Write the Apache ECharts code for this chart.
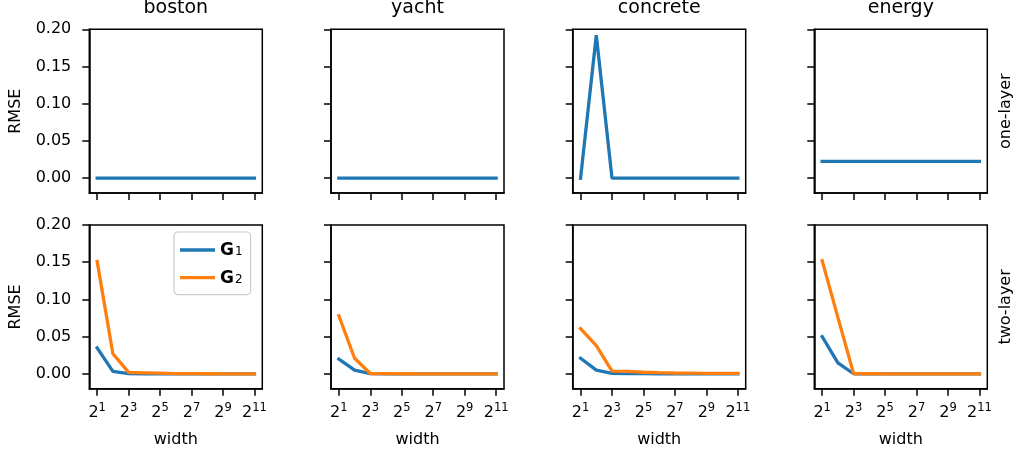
<!DOCTYPE html>
<html>
<head>
<meta charset="utf-8">
<script src="https://cdn.jsdelivr.net/npm/echarts@6/dist/echarts.min.js"></script>
<style>
  html, body { margin: 0; padding: 0; background: #fff; }
  #chart { width: 1015px; height: 454px; }
</style>
</head>
<body>
<div id="chart"></div>
<script>
// ---- data ----
const datasets = ['boston', 'yacht', 'concrete', 'energy'];
const rowLabels = ['one-layer', 'two-layer'];
const widthExp = [1, 2, 3, 4, 5, 6, 7, 8, 9, 10, 11];   // width = 2^exp
const xTickExps = [1, 3, 5, 7, 9, 11];
const yTicks = [0, 0.05, 0.10, 0.15, 0.20];
const seriesNames = ['G1', 'G2'];

// one-layer (only G1 drawn)
const bostonOneG1   = [0, 0, 0, 0, 0, 0, 0, 0, 0, 0, 0];
const yachtOneG1    = [0, 0, 0, 0, 0, 0, 0, 0, 0, 0, 0];
const concreteOneG1 = [0, 0.192, 0, 0, 0, 0, 0, 0, 0, 0, 0];
const energyOneG1   = [0.0225, 0.0225, 0.0225, 0.0225, 0.0225, 0.0225, 0.0225, 0.0225, 0.0225, 0.0225, 0.0225];

// two-layer
const bostonTwoG1   = [0.035, 0.0035, 0.0003, 0.0001, 0, 0, 0, 0, 0, 0, 0];
const bostonTwoG2   = [0.151, 0.027, 0.002, 0.0015, 0.001, 0.0005, 0.0003, 0.0002, 0.0001, 0.0001, 0.0001];
const yachtTwoG1    = [0.020, 0.005, 0.0003, 0.0001, 0, 0, 0, 0, 0, 0, 0];
const yachtTwoG2    = [0.078, 0.021, 0.0005, 0.0003, 0.0002, 0.0001, 0.0001, 0, 0, 0, 0];
const concreteTwoG1 = [0.021, 0.005, 0.0006, 0.0004, 0.0003, 0.0002, 0.0002, 0.0001, 0.0001, 0.0001, 0.0001];
const concreteTwoG2 = [0.061, 0.038, 0.0037, 0.0035, 0.0022, 0.0016, 0.0012, 0.0010, 0.0008, 0.0007, 0.0006];
const energyTwoG1   = [0.050, 0.0148, 0.0002, 0, 0, 0, 0, 0, 0, 0, 0];
const energyTwoG2   = [0.152, 0.076, 0.0003, 0.0002, 0.0001, 0.0001, 0, 0, 0, 0, 0];

const panelData = [
  [[bostonOneG1], [yachtOneG1], [concreteOneG1], [energyOneG1]],
  [[bostonTwoG1, bostonTwoG2], [yachtTwoG1, yachtTwoG2], [concreteTwoG1, concreteTwoG2], [energyTwoG1, energyTwoG2]]
];

// ---- layout / style ----
const FONT = 'DejaVu Sans';
const FS = 16;
const colors = ['#1f77b4', '#ff7f0e'];
const colLeft = [89.3, 331, 572.7, 814.3];
const rowTop = [29.3, 225];
const pw = 173, ph = 163.8;

const grids = [], xAxes = [], yAxes = [], series = [], titles = [], graphics = [];

for (let r = 0; r < 2; r++) {
  for (let c = 0; c < 4; c++) {
    const idx = r * 4 + c;
    grids.push({
      left: colLeft[c], top: rowTop[r], width: pw, height: ph,
      show: true, borderColor: '#000', borderWidth: 1.5, backgroundColor: 'rgba(0,0,0,0)'
    });
    xAxes.push({
      gridIndex: idx, type: 'value', min: 0.5, max: 11.5,
      axisLine: { show: true, onZero: false, lineStyle: { color: '#000', width: 1.5 } },
      axisTick: { show: true, customValues: xTickExps, length: 7, lineStyle: { color: '#000', width: 1.5 } },
      axisLabel: {
        show: r === 1, customValues: xTickExps, margin: 13,
        formatter: v => '{b|2}{s|' + v + '}',
        rich: {
          b: { fontFamily: FONT, fontSize: FS, color: '#000', lineHeight: 19, verticalAlign: 'bottom' },
          s: { fontFamily: FONT, fontSize: 11.5, color: '#000', lineHeight: 19, verticalAlign: 'top', padding: [0, 0, 7, 0] }
        }
      },
      splitLine: { show: false },
      name: r === 1 ? 'width' : '', nameLocation: 'middle', nameGap: 43,
      nameTextStyle: { fontFamily: FONT, fontSize: FS, color: '#000' }
    });
    yAxes.push({
      gridIndex: idx, type: 'value', min: -0.02, max: 0.2,
      axisLine: { show: true, onZero: false, lineStyle: { color: '#000', width: 1.5 } },
      axisTick: { show: true, customValues: yTicks, length: 7, lineStyle: { color: '#000', width: 1.5 } },
      axisLabel: {
        show: c === 0, customValues: yTicks, margin: 18,
        formatter: v => v.toFixed(2),
        fontFamily: FONT, fontSize: FS, color: '#000'
      },
      splitLine: { show: false },
      name: c === 0 ? 'RMSE' : '', nameLocation: 'middle', nameGap: 65, nameRotate: 90,
      nameTextStyle: { fontFamily: FONT, fontSize: FS, color: '#000' }
    });
    panelData[r][c].forEach((vals, k) => {
      series.push({
        name: seriesNames[k], type: 'line', xAxisIndex: idx, yAxisIndex: idx,
        data: widthExp.map((e, i) => [e, vals[i]]),
        symbol: 'none', showSymbol: false, animation: false,
        lineStyle: { color: colors[k], width: 3.3, cap: 'square' },
        itemStyle: { color: colors[k] },
        z: 2 + k
      });
    });
  }
}

datasets.forEach((d, c) => {
  titles.push({
    text: d, left: colLeft[c] + pw / 2, top: -1, textAlign: 'center', padding: 0,
    textStyle: { fontFamily: FONT, fontSize: 19, fontWeight: 'normal', color: '#000' }
  });
});

rowLabels.forEach((lab, r) => {
  graphics.push({
    type: 'text', x: 1006, y: rowTop[r] + ph / 2, rotation: Math.PI / 2,
    style: { text: lab, fontFamily: FONT, fontSize: FS, fill: '#000', align: 'center', verticalAlign: 'middle' }
  });
});

const option = {
  animation: false,
  backgroundColor: '#fff',
  title: titles,
  grid: grids,
  xAxis: xAxes,
  yAxis: yAxes,
  series: series,
  graphic: graphics,
  legend: {
    data: seriesNames, orient: 'vertical', left: 174, top: 232,
    padding: [7, 8, 8, 6], itemGap: 7.7, itemWidth: 35, itemHeight: 3.3, icon: 'rect',
    borderColor: '#cccccc', borderWidth: 1.2, borderRadius: 4, backgroundColor: 'rgba(255,255,255,0.8)',
    formatter: n => '{g|G}{s|' + n.slice(1) + '}',
    textStyle: {
      rich: {
        g: { fontFamily: FONT, fontSize: 17, fontWeight: 'bold', color: '#000', lineHeight: 16, verticalAlign: 'top' },
        s: { fontFamily: FONT, fontSize: 12, color: '#000', lineHeight: 16, verticalAlign: 'bottom', padding: [7, 0, 0, 1] }
      }
    }
  }
};

const chart = echarts.init(document.getElementById('chart'), null, { renderer: 'canvas' });
chart.setOption(option);
</script>
</body>
</html>
